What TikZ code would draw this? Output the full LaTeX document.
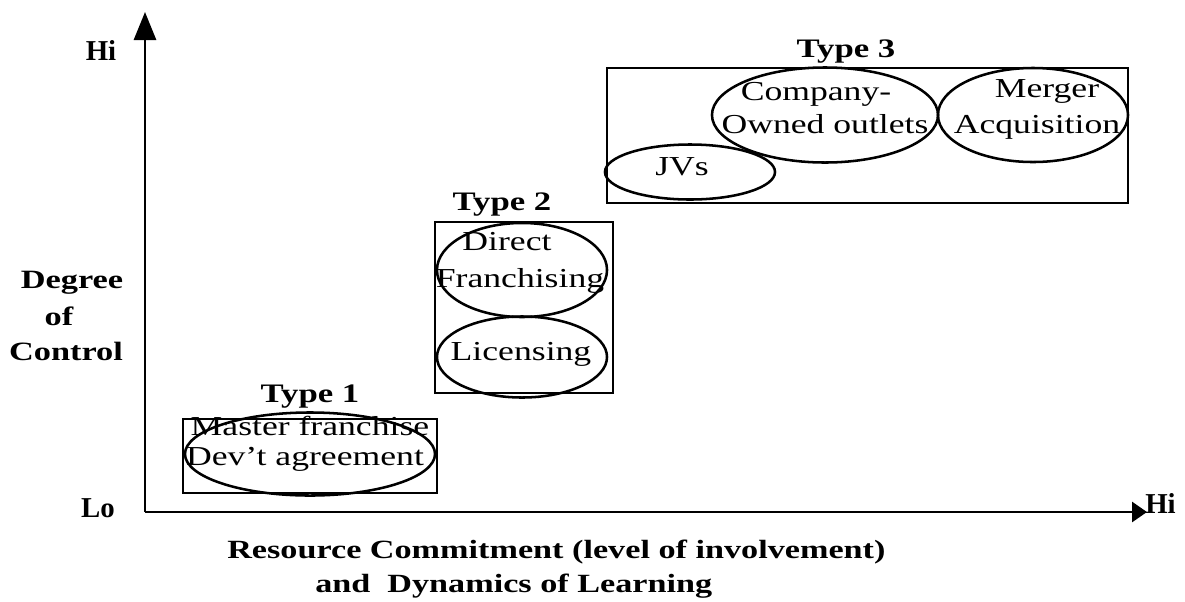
\documentclass[tikz,border=0pt]{standalone}
\usepackage{fontspec}
\setmainfont{Liberation Serif}[FakeStretch=1.3]
\newfontfamily\plainfont{Liberation Serif}
\usepackage{tikz}
\usetikzlibrary{
    arrows.meta,
    shapes.geometric
}

\tikzset{
    oval/.style={draw, ellipse, line width=1.8pt, inner sep=0pt},
    txt/.style={anchor=base, inner sep=0pt, font=\fontsize{19.5}{23}\selectfont},
    typelabel/.style={anchor=base, inner sep=0pt, font=\fontsize{19}{23}\selectfont\bfseries},
    typebox/.style={line width=0.8pt},
    axislabel/.style={anchor=base west, inner sep=0pt, font=\fontsize{18.7}{23}\selectfont\bfseries},
    endlabel/.style={anchor=base, inner sep=0pt, font=\plainfont\fontsize{20.5}{24}\selectfont\bfseries}
}

\begin{document}
\begin{tikzpicture}[x=0.025cm, y=-0.025cm]
\useasboundingbox (0,0) rectangle (1185,601);

% Axes
\coordinate (o) at (145,512);
\coordinate (ytip) at (145,12);
\coordinate (xtip) at (1147,512);
\draw[line width=2pt, -{Triangle[length=0.7cm, width=0.55cm]}] (o) -- (ytip);
\draw[line width=2pt, -{Triangle[length=0.375cm, width=0.5cm]}] (o) -- (xtip);
\node[endlabel] (hiy) at (101,60) {Hi};
\node[endlabel] (lo) at (98,517) {Lo};
\node[endlabel, anchor=base west] (hix) at (1145,513) {Hi};

% Degree of control
\node[typelabel, font=\fontsize{18.8}{23}\selectfont\bfseries] (deg) at (72,288) {Degree};
\node[typelabel, font=\fontsize{18.8}{23}\selectfont\bfseries] (degof) at (59,325) {of};
\node[typelabel, font=\fontsize{18.8}{23}\selectfont\bfseries] (ctrl) at (66,360) {Control};

% Resource commitment
\node[axislabel] (res) at (227,558) {Resource Commitment (level of involvement)};
\node[axislabel] (dyn) at (315,592) {and\ \ Dynamics of Learning};

% Type 1
\draw[typebox] (183,419) rectangle (437,493);
\node[typelabel] (type1) at (310,402) {Type 1};
\node[oval, minimum width=6.25cm, minimum height=2.075cm] (master) at (310,454) {};
\node[txt] (mastera) at (310,435) {Master franchise};
\node[txt] (masterb) at (305,465) {Dev't agreement};

% Type 2
\draw[typebox] (435,222) rectangle (613,393);
\node[typelabel] (type2) at (502,210) {Type 2};
\node[oval, minimum width=4.25cm, minimum height=2.35cm] (direct) at (522,270) {};
\node[txt] (directa) at (507,250) {Direct};
\node[txt] (directb) at (520,287) {Franchising};
\node[oval, minimum width=4.25cm, minimum height=2.025cm] (lic) at (522,357) {};
\node[txt] (lica) at (521,360) {Licensing};

% Type 3
\draw[typebox] (607,68) rectangle (1128,203);
\node[typelabel] (type3) at (846,57) {Type 3};
\node[oval, minimum width=4.25cm, minimum height=1.375cm] (jv) at (690,172) {};
\node[txt] (jva) at (682,175) {JVs};
\node[oval, minimum width=5.65cm, minimum height=2.375cm] (owned) at (825,115) {};
\node[txt] (owneda) at (816,100) {Company-};
\node[txt] (ownedb) at (825,133) {Owned outlets};
\node[oval, minimum width=4.75cm, minimum height=2.35cm] (merger) at (1033,115) {};
\node[txt] (mergera) at (1047,97) {Merger};
\node[txt] (mergerb) at (1037,133) {Acquisition};
\end{tikzpicture}
\end{document}
